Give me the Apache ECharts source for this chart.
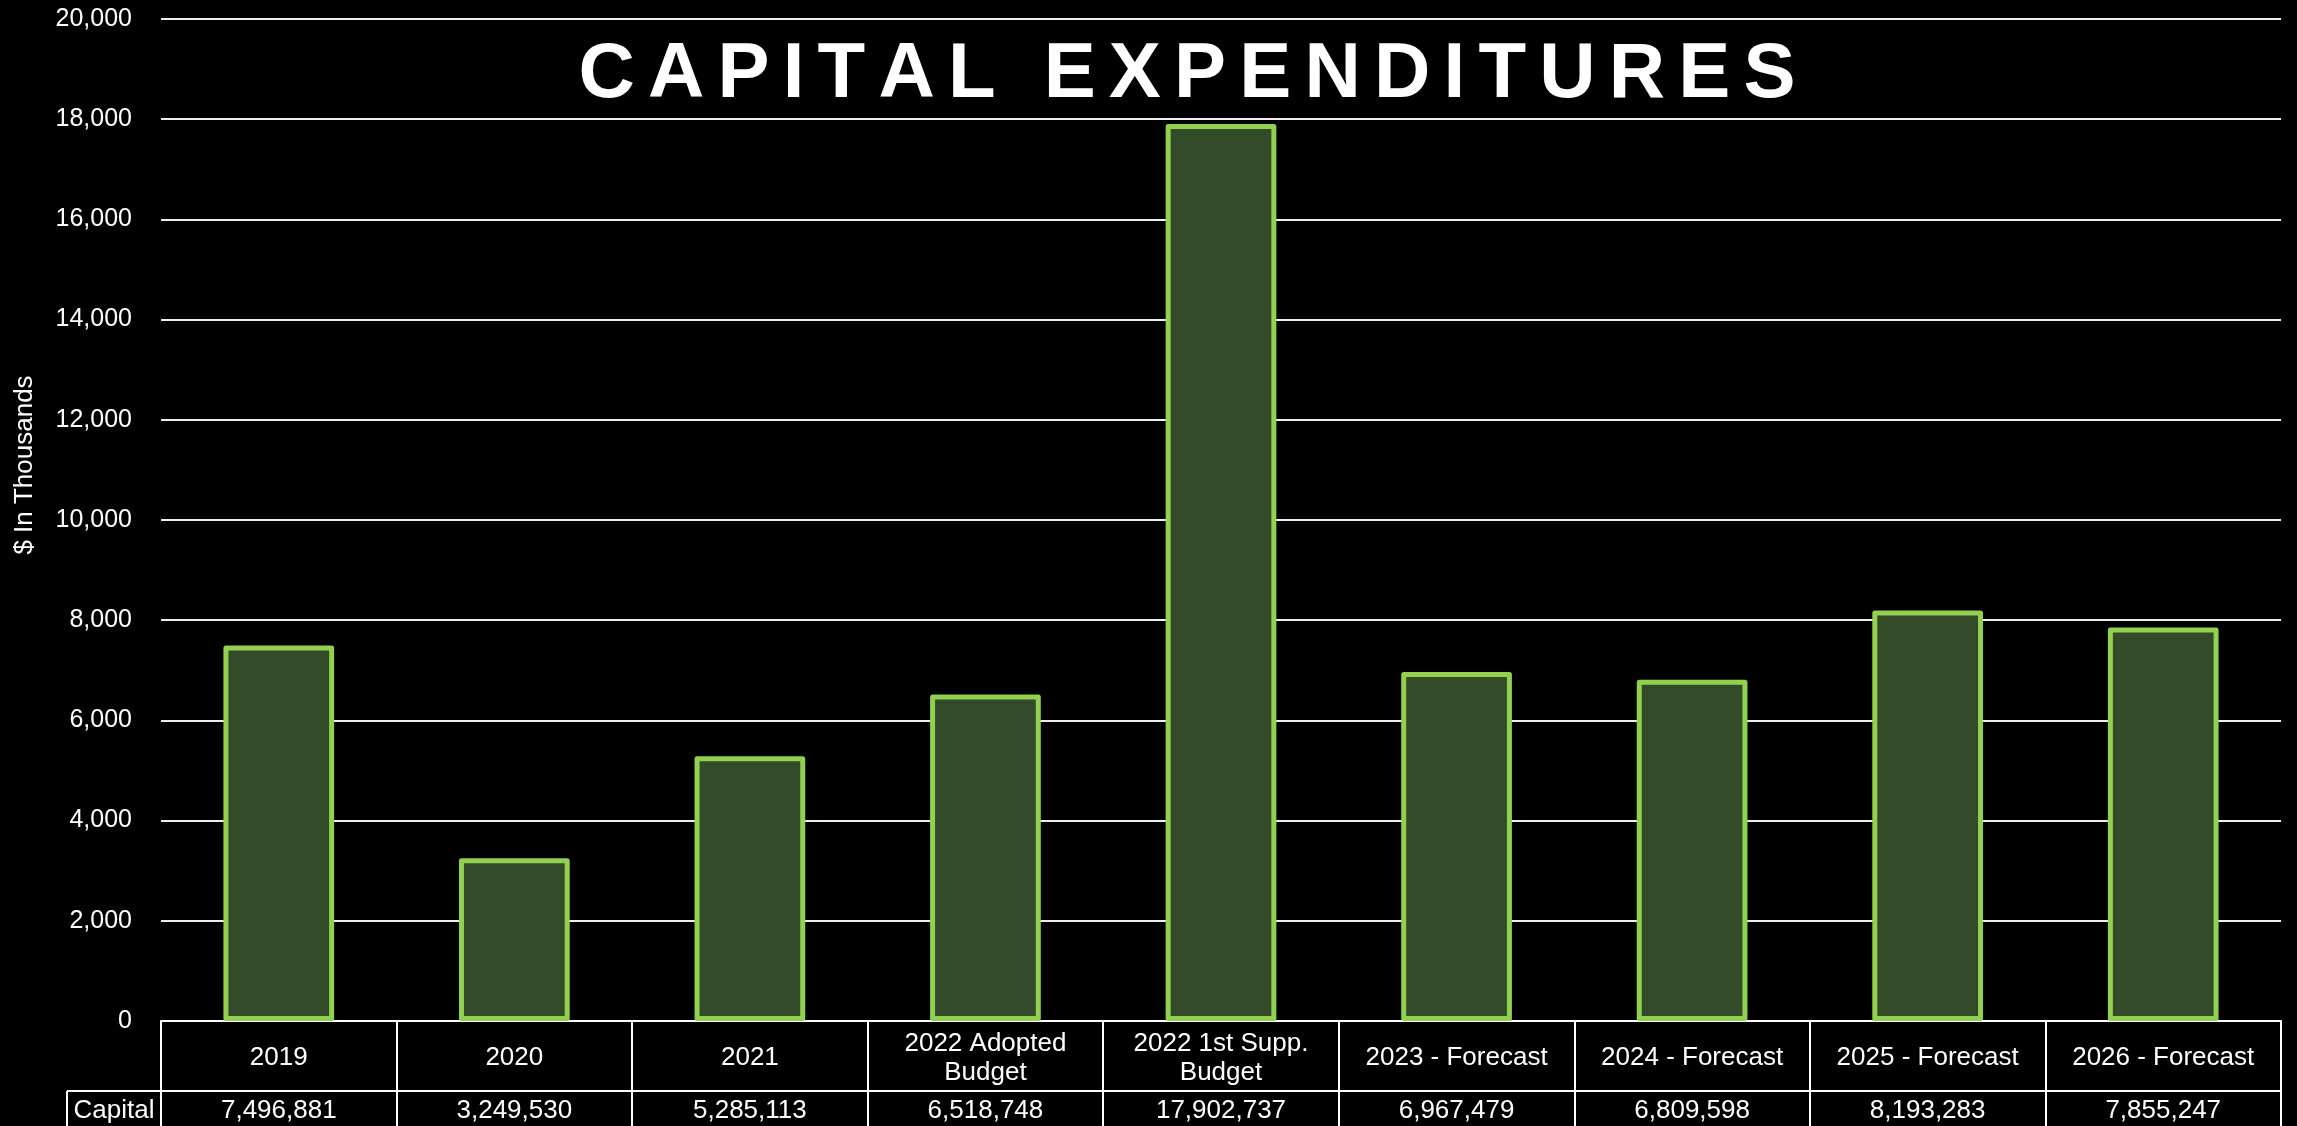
<!DOCTYPE html>
<html>
<head>
<meta charset="utf-8">
<script src="https://cdn.jsdelivr.net/npm/echarts@6/dist/echarts.min.js"></script>
<style>
html,body{margin:0;padding:0;background:#000;}
#chart{width:2297px;height:1126px;}
</style>
</head>
<body>
<div id="chart"></div>
<script>
const titleText = 'CAPITAL EXPENDITURES';
const axisName = '$ In Thousands';
const rowLabel = 'Capital';
const categories = ['2019', '2020', '2021', '2022 Adopted\nBudget', '2022 1st Supp.\nBudget', '2023 - Forecast', '2024 - Forecast', '2025 - Forecast', '2026 - Forecast'];
const capitalValues = [7496881, 3249530, 5285113, 6518748, 17902737, 6967479, 6809598, 8193283, 7855247];
const yMin = 0, yMax = 20000, yInterval = 2000;

const FONT = '"Liberation Sans", Arial, sans-serif';
const GL = 161, GR = 16, GT = 19, GB = 105;
const W = 2297, H = 1126;
const axisY = H - GB;          // y of value 0
const row1 = 70;               // category row height
const capLeft = 67;

const chart = echarts.init(document.getElementById('chart'), null, {renderer: 'canvas'});
const titleTemplate = titleText.split('').map(ch => '{t|' + ch + '}').join('');

chart.setOption({
  backgroundColor: '#000000',
  animation: false,
  grid: {left: GL, right: GR, top: GT, bottom: GB, containLabel: false},
  xAxis: [
    {
      type: 'category', data: categories, position: 'bottom',
      axisLine: {show: true, lineStyle: {color: '#ffffff', width: 2}},
      axisTick: {show: true, length: row1, interval: 0, alignWithLabel: false, lineStyle: {color: '#ffffff', width: 2}},
      axisLabel: {interval: 0, color: '#ffffff', fontSize: 26, fontFamily: FONT, lineHeight: 29, verticalAlign: 'middle', margin: 37},
      splitLine: {show: false}
    },
    {
      type: 'category', data: capitalValues.map(v => v.toLocaleString('en-US')), position: 'bottom', offset: row1,
      axisLine: {show: true, lineStyle: {color: '#ffffff', width: 2}},
      axisTick: {show: true, length: 45, interval: 0, alignWithLabel: false, lineStyle: {color: '#ffffff', width: 2}},
      axisLabel: {interval: 0, color: '#ffffff', fontSize: 26, fontFamily: FONT, verticalAlign: 'middle', margin: 20},
      splitLine: {show: false}
    }
  ],
  yAxis: {
    type: 'value', min: yMin, max: yMax, interval: yInterval,
    axisLine: {show: false}, axisTick: {show: false},
    axisLabel: {color: '#ffffff', fontSize: 25, fontFamily: FONT, margin: 29, formatter: v => v.toLocaleString('en-US')},
    splitLine: {show: true, lineStyle: {color: '#eeeeee', width: 2}}
  },
  series: [{
    type: 'bar', xAxisIndex: 0,
    data: capitalValues.map(v => v / 1000),
    barWidth: '47%',
    itemStyle: {color: '#344B29', borderColor: '#92D050', borderWidth: 5, borderJoin: 'round'},
    z: 3
  }],
  graphic: [
    {type: 'text', x: 1187, y: 75, z: 10,
     style: {text: titleTemplate, align: 'center', verticalAlign: 'middle',
       rich: {t: {fontSize: 78, fontWeight: 'bold', fontFamily: FONT, fill: '#ffffff', color: '#ffffff', padding: [0, 6.6, 0, 6.6]}}}},
    {type: 'text', x: 25, y: 465, rotation: Math.PI / 2,
     style: {text: axisName, align: 'center', verticalAlign: 'middle', fontSize: 26, fontFamily: FONT, fill: '#ffffff'}},
    {type: 'line', shape: {x1: capLeft, y1: axisY + row1, x2: GL, y2: axisY + row1}, style: {stroke: '#ffffff', lineWidth: 2}},
    {type: 'line', shape: {x1: capLeft, y1: axisY + row1, x2: capLeft, y2: H + 10}, style: {stroke: '#ffffff', lineWidth: 2}},
    {type: 'text', x: (capLeft + GL) / 2, y: axisY + row1 + 20,
     style: {text: rowLabel, align: 'center', verticalAlign: 'middle', fontSize: 26, fontFamily: FONT, fill: '#ffffff'}}
  ]
});
</script>
</body>
</html>
